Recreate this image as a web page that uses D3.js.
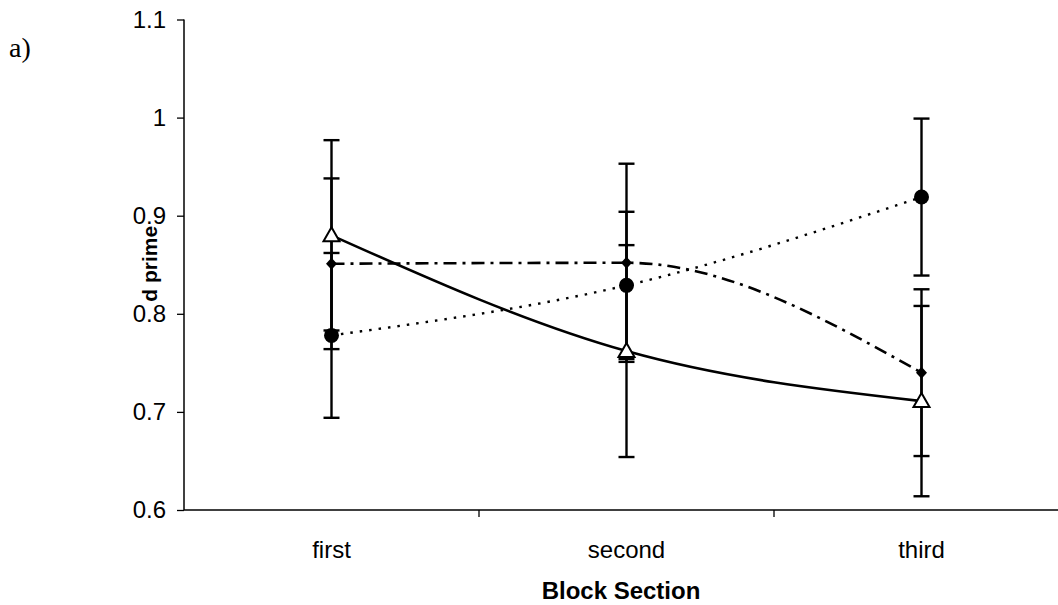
<!DOCTYPE html>
<html>
<head>
<meta charset="utf-8">
<script src="https://cdn.jsdelivr.net/npm/d3@7"></script>
<style>
  html, body { margin: 0; padding: 0; background: #fff; }
  svg { display: block; }
  text { font-family: "Liberation Sans", Arial, sans-serif; fill: #000; }
</style>
</head>
<body>
<svg id="chart" width="1058" height="605"></svg>
<script>
// Block sections along the x axis
const categories = ["first", "second", "third"];
// d prime means per condition
const triangleValues = [0.880, 0.762, 0.711];
const diamondValues  = [0.851, 0.852, 0.740];
const circleValues   = [0.778, 0.829, 0.919];
// error bar half-widths
const triangleErrors = [0.097, 0.108, 0.097];
const diamondErrors  = [0.087, 0.101, 0.085];
const circleErrors   = [0.084, 0.075, 0.080];
// y axis ticks
const yTicks = [0.6, 0.7, 0.8, 0.9, 1.0, 1.1];
const yTickLabels = ["0.6", "0.7", "0.8", "0.9", "1", "1.1"];

const svg = d3.select("#chart");

const x = d3.scaleBand().domain(categories).range([184, 1069]);
const y = d3.scaleLinear().domain([0.6, 1.1]).range([510, 19.5]);
const xc = c => x(c) + x.bandwidth() / 2;

// panel letter
svg.append("text")
  .attr("x", 9).attr("y", 57)
  .style("font-family", "'Liberation Serif', 'Times New Roman', serif")
  .style("font-size", "28px")
  .text("a)");

// y axis
const yAxis = d3.axisLeft(y).tickValues(yTicks)
  .tickFormat((d, i) => yTickLabels[i]).tickSize(7).tickPadding(11);
const gy = svg.append("g").attr("transform", "translate(184,0)").call(yAxis);
gy.select(".domain").attr("stroke", "#000").attr("stroke-width", 1.5).attr("d", `M0,${y(1.1)}V${y(0.6)}`);
gy.selectAll(".tick line").attr("stroke", "#000").attr("stroke-width", 1.3);
gy.selectAll(".tick text").style("font-size", "24px").style("font-family", "'Liberation Sans', Arial, sans-serif");

// x axis
const gx = svg.append("g").attr("transform", "translate(0,510)");
gx.append("line").attr("x1", 184).attr("x2", 1058).attr("y1", 0).attr("y2", 0)
  .attr("stroke", "#000").attr("stroke-width", 1.5);
const boundaries = categories.slice(1).map(c => x(c));
gx.selectAll("line.tk").data(boundaries).join("line").attr("class", "tk")
  .attr("x1", d => d).attr("x2", d => d).attr("y1", 0).attr("y2", 7)
  .attr("stroke", "#000").attr("stroke-width", 1.3);
gx.selectAll("text.cat").data(categories).join("text").attr("class", "cat")
  .attr("x", d => xc(d)).attr("y", 48)
  .attr("text-anchor", "middle")
  .style("font-size", "24px")
  .text(d => d);

// axis titles
svg.append("text")
  .attr("x", 621).attr("y", 599)
  .attr("text-anchor", "middle")
  .style("font-size", "24px").style("font-weight", "bold")
  .text("Block Section");
svg.append("text")
  .attr("transform", `translate(157,${y(0.851)}) rotate(-90)`)
  .attr("text-anchor", "middle")
  .style("font-size", "21px").style("font-weight", "bold")
  .text("d prime");

const series = [
  { name: "triangle", values: triangleValues, errors: triangleErrors, dash: null, width: 2.6 },
  { name: "diamond",  values: diamondValues,  errors: diamondErrors,  dash: "13,6,3,6", width: 2.6 },
  { name: "circle",   values: circleValues,   errors: circleErrors,   dash: "2.5,7", width: 2.4 }
];

const line = d3.line()
  .x((d, i) => xc(categories[i]))
  .y(d => y(d))
  .curve(d3.curveMonotoneX);

// connecting lines
series.forEach(s => {
  svg.append("path")
    .attr("d", line(s.values))
    .attr("fill", "none")
    .attr("stroke", "#000")
    .attr("stroke-width", s.width)
    .attr("stroke-dasharray", s.dash);
});

// error bars
const capHalf = 8;
series.forEach(s => {
  const g = svg.append("g").attr("class", "err-" + s.name);
  s.values.forEach((v, i) => {
    const cx = xc(categories[i]);
    const lo = y(v - s.errors[i]), hi = y(v + s.errors[i]);
    g.append("line").attr("x1", cx).attr("x2", cx).attr("y1", hi).attr("y2", lo)
      .attr("stroke", "#000").attr("stroke-width", 2.4);
    [hi, lo].forEach(yy => {
      g.append("line").attr("x1", cx - capHalf).attr("x2", cx + capHalf)
        .attr("y1", yy).attr("y2", yy)
        .attr("stroke", "#000").attr("stroke-width", 2.4);
    });
  });
});

// markers
const mk = svg.append("g");
circleValues.forEach((v, i) => {
  mk.append("circle").attr("cx", xc(categories[i])).attr("cy", y(v)).attr("r", 7.5).attr("fill", "#000");
});
diamondValues.forEach((v, i) => {
  const cx = xc(categories[i]), cy = y(v);
  mk.append("path").attr("d", `M${cx},${cy - 6}L${cx + 5.5},${cy}L${cx},${cy + 6}L${cx - 5.5},${cy}Z`).attr("fill", "#000");
});
triangleValues.forEach((v, i) => {
  const cx = xc(categories[i]), cy = y(v);
  mk.append("path").attr("d", `M${cx},${cy - 8}L${cx + 8},${cy + 6}L${cx - 8},${cy + 6}Z`)
    .attr("fill", "#fff").attr("stroke", "#000").attr("stroke-width", 2);
});
</script>
</body>
</html>
